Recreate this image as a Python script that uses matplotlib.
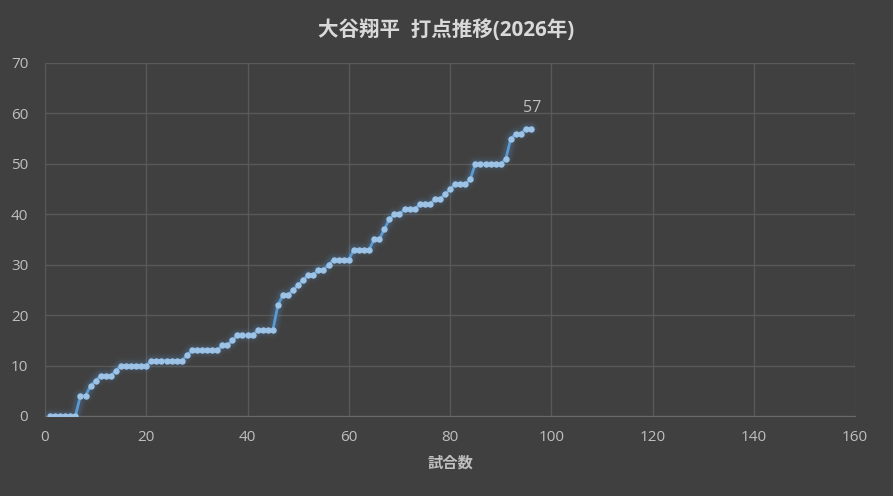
import matplotlib.pyplot as plt
import numpy as np

plt.rcParams['font.family'] = ['Open Sans', 'Noto Sans CJK JP', 'DejaVu Sans']

# RBI running total per game
games = list(range(1, 97))
rbi = [0, 0, 0, 0, 0, 0, 4, 4, 6, 7,
       8, 8, 8, 9, 10, 10, 10, 10, 10, 10,
       11, 11, 11, 11, 11, 11, 11, 12, 13, 13,
       13, 13, 13, 13, 14, 14, 15, 16, 16, 16,
       16, 17, 17, 17, 17, 22, 24, 24, 25, 26,
       27, 28, 28, 29, 29, 30, 31, 31, 31, 31,
       33, 33, 33, 33, 35, 35, 37, 39, 40, 40,
       41, 41, 41, 42, 42, 42, 43, 43, 44, 45,
       46, 46, 46, 47, 50, 50, 50, 50, 50, 50,
       51, 55, 56, 56, 57, 57]
title = "大谷翔平  打点推移(2026年)"
xlabel = "試合数"

bg = "#404040"
txt = "#bfbfbf"
grid = "#595959"
line_c = "#5b9bd5"
mark_c = "#9dc3e6"

fig = plt.figure(figsize=(8.93, 4.96), dpi=100, facecolor=bg)
ax = fig.add_axes([0.0504, 0.1613, 0.9072, 0.7117], facecolor=bg)

x = np.array(games)
y = np.array(rbi)

# soft glow around the line
for lw, a in [(11, 0.05), (8, 0.08), (5.5, 0.12)]:
    ax.plot(x, y, color=line_c, lw=lw, alpha=a, solid_capstyle='round', zorder=2)
ax.plot(x, y, color=line_c, lw=2, zorder=3)
ax.plot(x, y, ls='none', marker='o', ms=3.6, mfc=mark_c, mec=mark_c, zorder=4)

ax.annotate(str(y[-1]), (x[-1], y[-1]), xytext=(1, 9), textcoords='offset points',
            ha='center', va='bottom', color=txt, fontsize=11.5)

ax.set_xlim(0, 160)
ax.set_ylim(0, 70)
ax.set_xticks(np.arange(0, 161, 20))
ax.set_yticks(np.arange(0, 71, 10))
ax.grid(True, color=grid, lw=1)
ax.set_axisbelow(True)
for s in ['top', 'right', 'left']:
    ax.spines[s].set_visible(False)
ax.spines['bottom'].set_color("#6a6a6a")
ax.tick_params(length=0, colors=txt, labelsize=11)
ax.tick_params(axis='y', pad=12)
ax.tick_params(axis='x', pad=10)

ax.set_xlabel(xlabel, color=txt, fontsize=11, fontweight='bold', labelpad=8)
fig.suptitle(title, color="#d9d9d9", fontsize=14.8, fontweight='bold', y=0.94, va='center')

plt.savefig('out.png', dpi=100, facecolor=bg)
